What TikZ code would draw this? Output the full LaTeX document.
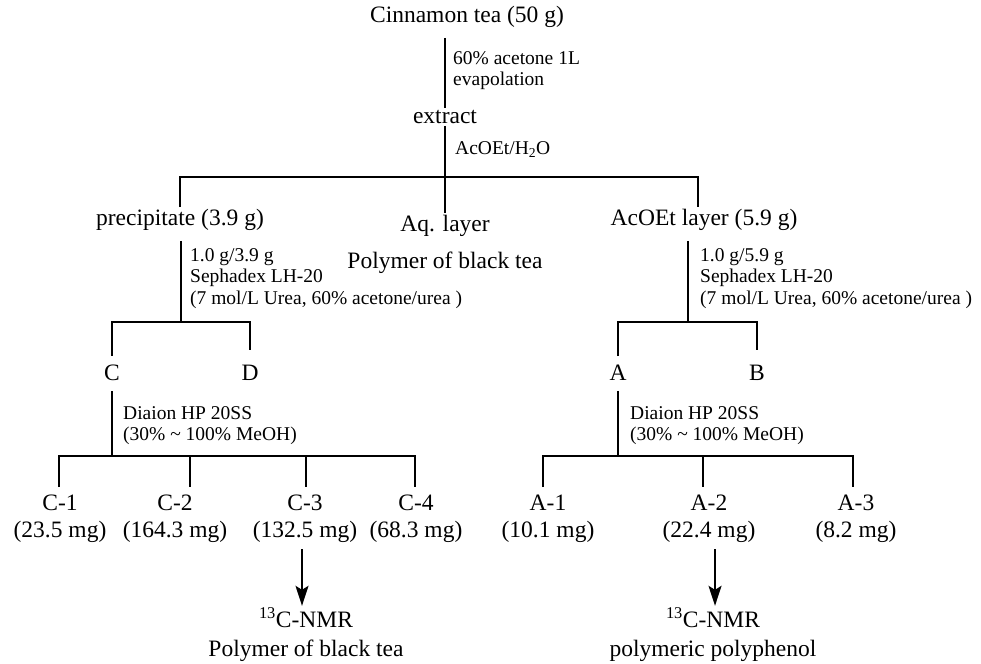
\documentclass[tikz,border=0pt]{standalone}
\usepackage{fontspec}
\setmainfont{Liberation Serif}
\usetikzlibrary{arrows.meta,positioning}
\tikzset{
  sample/.style={align=center,inner sep=2pt,
    font=\fontsize{23.5}{27}\selectfont},
  cond/.style={anchor=north west,align=left,inner sep=0pt,
    font=\fontsize{19.5}{21.5}\selectfont},
  branch/.style={line width=1.5pt},
  toNMR/.style={line width=1.5pt,-{Stealth[length=20pt,width=13pt,inset=4pt]}},
}

\begin{document}
\begin{tikzpicture}[x=1pt,y=-1pt]
  \useasboundingbox (0,0) rectangle (981,663);

  % extraction and partition
  \node[sample] (cin) at (467,17) {Cinnamon tea (50 g)};
  \node[sample] (ext) at (445,117) {extract};
  \node[cond] (c1) at (453,51) {60\% acetone 1L\\evapolation};
  \node[cond] (c2) at (455,141) {AcOEt/H\textsubscript{2}O};

  \node[sample] (prec) at (180,220) {precipitate (3.9 g)};
  \node[sample,font=\fontsize{23.5}{37}\selectfont] (aq) at (445,244) {Aq. layer\\Polymer of black tea};
  \node[sample] (aco) at (704,220) {AcOEt layer (5.9 g)};

  \coordinate (jL) at (180,177);
  \coordinate (jR) at (698,177);

  \draw[branch] (cin.south -| ext) ++(0,8) -- (ext.north);
  \draw[branch] (ext.south) -- (aq.north);
  \draw[branch] (jL |- prec.north) -- (jL) -- (jR) -- (jR |- aco.north);

  % Sephadex LH-20
  \node[cond] (c3) at (190,248) {1.0 g/3.9 g\\Sephadex LH-20\\(7 mol/L Urea, 60\% acetone/urea )};
  \node[cond] (c4) at (700,248) {1.0 g/5.9 g\\Sephadex LH-20\\(7 mol/L Urea, 60\% acetone/urea )};

  \node[sample] (C) at (112,373) {C};
  \node[sample] (D) at (250,373) {D};
  \node[sample] (A) at (618,373) {A};
  \node[sample] (B) at (757,373) {B};

  \coordinate (jCD) at (181,322);
  \coordinate (jAB) at (688,322);

  \draw[branch] (jCD |- prec.south) ++(0,8) -- (jCD);
  \draw[branch] (C.north) ++(0,-7) -- (C |- jCD) -- (D |- jCD) -- ++(0,28);
  \draw[branch] (jAB |- aco.south) ++(0,8) -- (jAB);
  \draw[branch] (A.north) ++(0,-7) -- (A |- jAB) -- (B |- jAB) -- ++(0,28);

  % Diaion HP 20SS
  \node[cond] (c5) at (123,406) {Diaion HP 20SS\\(30\% \textasciitilde{} 100\% MeOH)};
  \node[cond] (c6) at (630,406) {Diaion HP 20SS\\(30\% \textasciitilde{} 100\% MeOH)};

  \node[sample] (C1) at (60,519) {C-1\\(23.5 mg)};
  \node[sample] (C2) at (175,519) {C-2\\(164.3 mg)};
  \node[sample] (C3) at (305,519) {C-3\\(132.5 mg)};
  \node[sample] (C4) at (416,519) {C-4\\(68.3 mg)};
  \node[sample] (A1) at (548,519) {A-1\\(10.1 mg)};
  \node[sample] (A2) at (709,519) {A-2\\(22.4 mg)};
  \node[sample] (A3) at (856,519) {A-3\\(8.2 mg)};

  \coordinate (jC) at (112,456);
  \coordinate (jA) at (618,456);

  \draw[branch] (C.south) ++(0,8) -- (jC);
  \draw[branch] (A.south) ++(0,8) -- (jA);
  \draw[branch] (59,487) -- (59,456) -- (415,456) -- (415,487);
  \draw[branch] (190,456) -- (190,487);
  \draw[branch] (306,456) -- (306,487);
  \draw[branch] (543,487) -- (543,456) -- (853,456) -- (853,487);
  \draw[branch] (703,456) -- (703,487);

  % 13C-NMR
  \node[sample,font=\fontsize{23.5}{29}\selectfont] (nmrC) at (306,635) {\textsuperscript{13}C-NMR\\Polymer of black tea};
  \node[sample,font=\fontsize{23.5}{29}\selectfont] (nmrA) at (713,635) {\textsuperscript{13}C-NMR\\polymeric polyphenol};

  \coordinate (xC) at (302,0);
  \coordinate (xA) at (715,0);
  \draw[toNMR] (C3.south -| xC) ++(0,4) -- (nmrC.north -| xC);
  \draw[toNMR] (A2.south -| xA) ++(0,4) -- (nmrA.north -| xA);
\end{tikzpicture}
\end{document}
